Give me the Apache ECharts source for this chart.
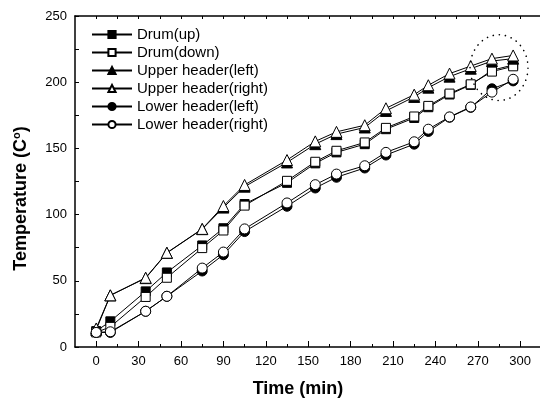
<!DOCTYPE html>
<html>
<head>
<meta charset="utf-8">
<script src="https://cdn.jsdelivr.net/npm/echarts@6/dist/echarts.min.js"></script>
<style>html,body{margin:0;padding:0;background:#fff}#c{width:540px;height:403px}</style>
</head>
<body>
<div id="c"></div>
<script>
const time = [0,10,35,50,75,90,105,135,155,170,190,205,225,235,250,265,280,295];
const drumUp = [12,19.4,42,56.3,76.7,89.7,108,124,138.7,147,153.2,164.5,173,181.1,190.7,198,209,213];
const drumDown = [11,15.2,37.8,52.3,74.7,88,106.8,125.5,139.9,148.2,154.5,165.5,174.1,182.1,191.4,198.4,208,212];
const upperLeft = [13,39,52,71,89,105.3,121.1,139.4,153.2,160.8,165.8,178.3,188.9,195.9,204.2,210.2,216,217.8];
const upperRight = [14,39,52.3,71.2,89.2,106.5,122.4,141.2,155.3,162.5,167.5,180.3,190.6,197.7,206.5,212.2,217.8,220.2];
const lowerLeft = [11,11,27,38.3,57.4,69.7,87.2,106.3,120.1,128.2,135.2,145,153.2,162.8,173.5,181,195,201];
const lowerRight = [11,11.5,27,38.3,59.6,71.7,89.2,108.8,122.6,130.6,136.9,147,155,164.5,173.8,181.3,192.5,202.2];
const xMajor = [0,30,60,90,120,150,180,210,240,270,300];
const xMinor = [15,45,75,105,135,165,195,225,255,285];
const xTop = [0,15,30,45,60,75,90,105,120,135,150,165,180,195,210,225,240,255,270,285,300];
const yMajor = [0,50,100,150,200,250];
const yTicks = [0,25,50,75,100,125,150,175,200,225,250];
const names = ['Drum(up)','Drum(down)','Upper header(left)','Upper header(right)','Lower header(left)','Lower header(right)'];

const FONT = "'Liberation Sans', Arial, sans-serif";
const pair = arr => time.map((t,i)=>[t,arr[i]]);
function mk(name, arr, symbol, filled, size){
  return {
    name, type:'line', data: pair(arr), symbol, symbolSize:size,
    showSymbol:true, animation:false,
    lineStyle:{color:'#000', width:1},
    itemStyle:{color: filled ? '#000' : '#fff', borderColor:'#000', borderWidth:1},
    emphasis:{disabled:true}
  };
}
const chart = echarts.init(document.getElementById('c'));
const xBase = {type:'value', min:-15, max:314, gridIndex:0, splitLine:{show:false}};
chart.setOption({
  animation:false,
  backgroundColor:'#fff',
  textStyle:{fontFamily:FONT},
  grid:{left:75, right:0, top:16, bottom:54},
  legend:{
    orient:'vertical', left:86, top:22, itemWidth:40, itemHeight:9, itemGap:3,
    data:names,
    textStyle:{fontFamily:FONT, fontSize:15, color:'#000'},
    inactiveColor:'#000'
  },
  xAxis:[
    Object.assign({}, xBase, {
      position:'bottom',
      name:'Time (min)', nameLocation:'middle', nameGap:33,
      nameTextStyle:{fontFamily:FONT, fontSize:18, fontWeight:'bold', color:'#000', padding:[0,19,0,0]},
      axisLine:{show:true, onZero:false, lineStyle:{color:'#000', width:1.5}},
      axisTick:{show:true, inside:true, length:6, customValues:xMajor, lineStyle:{color:'#000', width:1}},
      axisLabel:{show:true, customValues:xMajor, margin:8, fontFamily:FONT, fontSize:13, color:'#000'}
    }),
    Object.assign({}, xBase, {
      position:'bottom',
      axisLine:{show:false, onZero:false},
      axisTick:{show:true, inside:true, length:3, customValues:xMinor, lineStyle:{color:'#000', width:1}},
      axisLabel:{show:false}
    }),
    Object.assign({}, xBase, {
      position:'top',
      axisLine:{show:true, onZero:false, lineStyle:{color:'#000', width:1.5}},
      axisTick:{show:true, inside:true, length:3, customValues:xTop, lineStyle:{color:'#000', width:1}},
      axisLabel:{show:false}
    })
  ],
  yAxis:[{
    type:'value', min:0, max:250,
    name:'Temperature (C{sup|o})', nameLocation:'middle', nameGap:44, nameRotate:90,
    nameTextStyle:{fontFamily:FONT, fontSize:18, fontWeight:'bold', color:'#000', padding:[0,34,0,0],
      rich:{sup:{fontFamily:FONT, fontSize:11, fontWeight:'bold', color:'#000', verticalAlign:'top', padding:[0,0,9,0]}}},
    splitLine:{show:false},
    axisLine:{show:true, onZero:false, lineStyle:{color:'#000', width:1.5}},
    axisTick:{show:true, inside:true, length:4, customValues:yTicks, lineStyle:{color:'#000', width:1}},
    axisLabel:{show:true, customValues:yMajor, margin:8, fontFamily:FONT, fontSize:13, color:'#000'}
  }],
  series:[
    mk(names[0], drumUp, 'rect', true, 9),
    mk(names[1], drumDown, 'rect', false, 9),
    mk(names[2], upperLeft, 'triangle', true, 11),
    mk(names[3], upperRight, 'triangle', false, 11),
    mk(names[4], lowerLeft, 'circle', true, 10),
    mk(names[5], lowerRight, 'circle', false, 10)
  ]
});
// dotted annotation ellipse around the top-right points (defined in data units)
const ellC = [285, 211], ellR = [20.5, 24.8];
const c = chart.convertToPixel({gridIndex:0}, ellC);
const e = chart.convertToPixel({gridIndex:0}, [ellC[0]+ellR[0], ellC[1]+ellR[1]]);
chart.setOption({graphic:[{type:'ellipse', silent:true, z:100,
  shape:{cx:c[0], cy:c[1], rx:Math.abs(e[0]-c[0]), ry:Math.abs(e[1]-c[1])},
  style:{fill:'none', stroke:'#000', lineWidth:1.6, lineDash:[0.1,6], lineCap:'round'}}]});
</script>
</body>
</html>
